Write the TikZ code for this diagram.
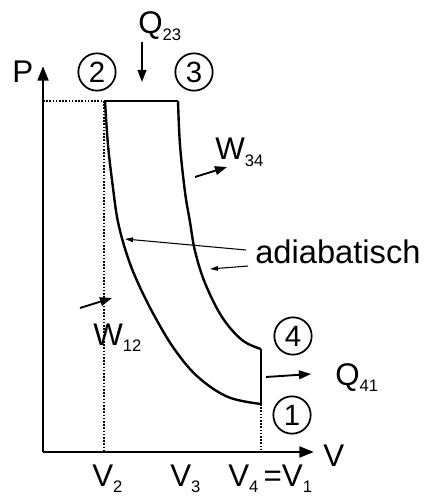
\documentclass[tikz,border=0pt]{standalone}
\usepackage{fontspec}
\setmainfont{Liberation Sans}
\usetikzlibrary{arrows.meta}
\newcommand\mysub[1]{\raisebox{-5pt}{\fontsize{12.5pt}{12.5pt}\selectfont #1}}
\begin{document}
\begin{tikzpicture}[x=0.75pt,y=-0.75pt,
  lbl/.style={inner sep=0pt, anchor=base west, font=\fontsize{23.5pt}{23.5pt}\selectfont},
  num/.style={circle, draw, line width=1.3pt, minimum size=28pt, inner sep=0pt, font=\fontsize{22pt}{22pt}\selectfont},
  axis/.style={line width=2.2pt, -{Triangle[length=11pt,width=8pt]}},
  curve/.style={line width=1.8pt},
  dots/.style={line width=1.5pt, dash pattern=on 1.2pt off 1.2pt},
  heat/.style={line width=1.4pt, -{Triangle[length=9pt,width=6.5pt]}},
  thinarr/.style={line width=0.8pt, -{Triangle[length=6pt,width=3.5pt]}}]
\useasboundingbox (0,0) rectangle (426,498);
% key points
\coordinate (O) at (43,452);
\coordinate (Ptip) at (43,66);
\coordinate (Vtip) at (314,452);
\coordinate (L) at (43,101);
\coordinate (p2) at (105,101);
\coordinate (p3) at (178,101);
\coordinate (p4) at (261,349);
\coordinate (p1) at (261,404);
\coordinate (v2top) at (104,101);
\coordinate (v2bot) at (104,452);
\coordinate (v1bot) at (261,452);
% axes
\draw[axis] (O) -- (Ptip);
\draw[axis] (O) -- (Vtip);
% dotted guides
\draw[dots] (L) -- (v2top);
\draw[dots] (v2top) -- (v2bot);
\draw[dots] (p1) -- (v1bot);
% cycle
\draw[curve] (p2) -- (p3);
\draw[curve] plot[smooth, tension=0.6] coordinates {(178,101) (180,145) (185,192) (190,222) (195,251) (205,283) (222,317) (242,340) (261,349)};
\draw[curve] (p4) -- (p1);
\draw[curve] plot[smooth, tension=0.6] coordinates {(105,101) (108,145) (113,188) (118,222) (127,255) (138,283) (155,317) (175,350) (198,377) (228,397) (261,404)};
% state circles
\node[num] (c2) at (97,72) {2};
\node[num] (c3) at (194,72) {3};
\node[num] (c4) at (293,336) {4};
\node[num] (c1) at (292,415) {1};
% axis labels
\node[lbl] (lP) at (12,83) {P};
\node[lbl] (lV) at (323,466) {V};
\node[lbl] (lV2) at (92,486) {V\mysub{2}};
\node[lbl] (lV3) at (170,486) {V\mysub{3}};
\node[lbl] (lV41) at (228,486) {V\mysub{4}\,=V\mysub{1}};
% heat and work
\node[lbl] (q23) at (138,34) {Q\mysub{23}};
\coordinate (q23a) at (142,42);
\coordinate (q23b) at (142,82);
\draw[heat] (q23a) -- (q23b);
\node[lbl] (q41) at (335,385) {Q\mysub{41}};
\coordinate (q41a) at (266,377);
\coordinate (q41b) at (311,374);
\draw[heat] (q41a) -- (q41b);
\node[lbl] (w34) at (215,160) {W\mysub{34}};
\coordinate (w34a) at (195,177);
\coordinate (w34b) at (227,167);
\draw[heat] (w34a) -- (w34b);
\node[lbl] (w12) at (93,345) {W\mysub{12}};
\coordinate (w12a) at (80,308);
\coordinate (w12b) at (112,298);
\draw[heat] (w12a) -- (w12b);
% adiabatisch
\node[lbl, font=\fontsize{24.5pt}{24.5pt}\selectfont] (adi) at (255,263) {adiabatisch};
\coordinate (a1s) at (246,250);
\coordinate (a1) at (125,239);
\coordinate (a2s) at (248,266);
\coordinate (a2) at (210,269);
\draw[thinarr] (a1s) -- (a1);
\draw[thinarr] (a2s) -- (a2);
\end{tikzpicture}
\end{document}
